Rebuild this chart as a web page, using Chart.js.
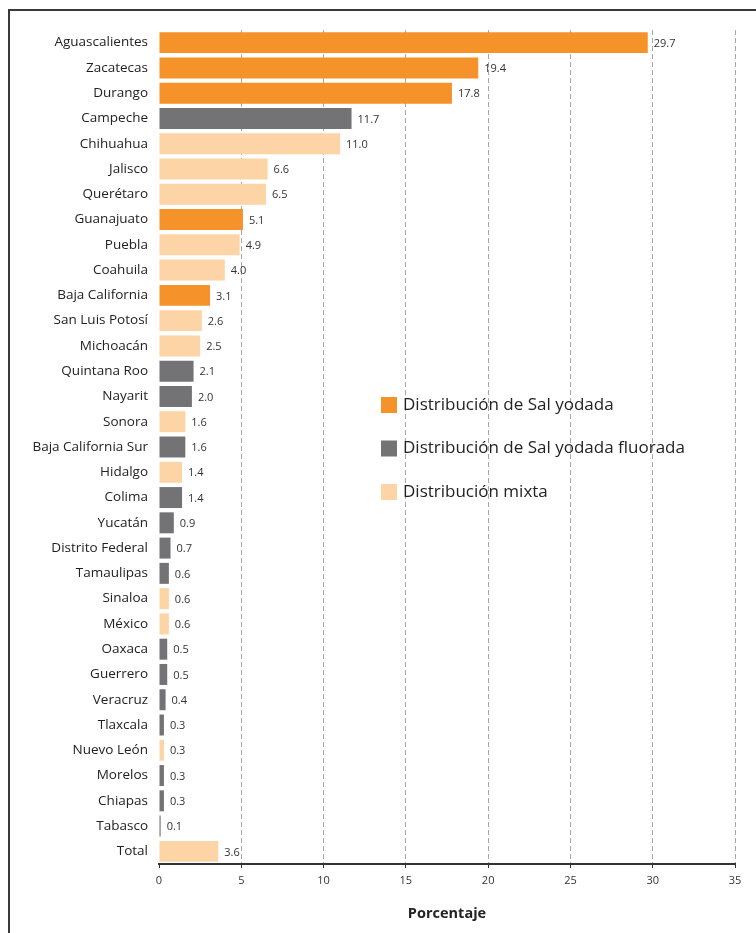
<!DOCTYPE html>
<html>
<head>
<meta charset="utf-8">
<script src="https://cdn.jsdelivr.net/npm/chart.js"></script>
<style>
  html, body { margin: 0; padding: 0; background: #fff; overflow: hidden; }
  #wrap { position: relative; width: 756px; height: 933px; }
  #frame { position: absolute; left: 8px; top: 9px; width: 800px; height: 1000px; border: 2px solid #3a3a3a; box-sizing: border-box; }
  canvas { position: absolute; left: 0; top: 0; }
</style>
</head>
<body>
<div id="wrap">
  <div id="frame"></div>
  <canvas id="saltChart" width="756" height="933"></canvas>
</div>
<script>
// Datos: porcentaje por entidad y tipo de distribucion
const estados = ['Aguascalientes', 'Zacatecas', 'Durango', 'Campeche', 'Chihuahua', 'Jalisco',
    'Querétaro', 'Guanajuato', 'Puebla', 'Coahuila', 'Baja California', 'San Luis Potosí',
    'Michoacán', 'Quintana Roo', 'Nayarit', 'Sonora', 'Baja California Sur', 'Hidalgo',
    'Colima', 'Yucatán', 'Distrito Federal', 'Tamaulipas', 'Sinaloa', 'México', 'Oaxaca',
    'Guerrero', 'Veracruz', 'Tlaxcala', 'Nuevo León', 'Morelos', 'Chiapas', 'Tabasco', 'Total'];

const porcentajes = [29.7, 19.4, 17.8, 11.7, 11.0, 6.6, 6.5, 5.1, 4.9, 4.0, 3.1, 2.6,
    2.5, 2.1, 2.0, 1.6, 1.6, 1.4, 1.4, 0.9, 0.7, 0.6, 0.6, 0.6, 0.5,
    0.5, 0.4, 0.3, 0.3, 0.3, 0.3, 0.1, 3.6];

// 0 = sal yodada, 1 = sal yodada fluorada, 2 = mixta
const tipos = [0, 0, 0, 1, 2, 2, 2, 0, 2, 2, 0, 2,
    2, 1, 1, 2, 1, 2, 1, 1, 1, 1, 2, 2, 1,
    1, 1, 1, 2, 1, 1, 1, 2];

const tiposNombres = ['Distribución de Sal yodada', 'Distribución de Sal yodada fluorada', 'Distribución mixta'];
const tiposColores = ['#f5922a', '#737376', '#fcd4a6'];

const xTicks = [0, 5, 10, 15, 20, 25, 30, 35];

const datasets = tiposNombres.map((nombre, t) => ({
    label: nombre,
    data: porcentajes.map((v, i) => tipos[i] === t ? v : null),
    backgroundColor: tiposColores[t],
    borderWidth: 0,
    barPercentage: 0.83,
    categoryPercentage: 1
}));

// etiquetas de valor al final de cada barra
const valueLabels = {
    id: 'valueLabels',
    afterDatasetsDraw(chart) {
        const ctx = chart.ctx;
        ctx.save();
        ctx.font = '11px "Open Sans"';
        ctx.fillStyle = '#333';
        ctx.textBaseline = 'middle';
        chart.data.datasets.forEach((ds, di) => {
            chart.getDatasetMeta(di).data.forEach((bar, i) => {
                const v = ds.data[i];
                if (v === null) return;
                ctx.fillText(v.toFixed(1), bar.x + 6, bar.y + 1);
            });
        });
        ctx.restore();
    }
};

// leyenda dentro del area del grafico
const innerLegend = {
    id: 'innerLegend',
    afterDraw(chart) {
        const ctx = chart.ctx;
        const x = 381, y0 = 405, gap = 43.5;
        ctx.save();
        ctx.font = '17px "Open Sans"';
        ctx.textBaseline = 'middle';
        chart.data.datasets.forEach((ds, i) => {
            const y = y0 + i * gap;
            ctx.fillStyle = ds.backgroundColor;
            ctx.fillRect(x, y - 8, 16, 16);
            ctx.fillStyle = '#222';
            ctx.fillText(ds.label, x + 22, y);
        });
        ctx.restore();
    }
};

new Chart(document.getElementById('saltChart'), {
    type: 'bar',
    data: { labels: estados, datasets: datasets },
    options: {
        indexAxis: 'y',
        responsive: false,
        animation: false,
        layout: { padding: { top: 30, right: 21, left: 0, bottom: 10 } },
        plugins: {
            legend: { display: false },
            tooltip: { enabled: false }
        },
        scales: {
            y: {
                stacked: true,
                grid: { display: false, drawTicks: false },
                border: { display: false },
                ticks: {
                    color: '#222',
                    font: { family: 'Open Sans', size: 13.5 },
                    padding: 11,
                    autoSkip: false
                },
                afterFit(scale) { scale.width = 159; }
            },
            x: {
                min: 0,
                max: 35,
                afterBuildTicks(scale) {
                    scale.ticks = xTicks.map(v => ({ value: v }));
                },
                grid: {
                    color: ctx => ctx.tick && ctx.tick.value === 0 ? 'rgba(0,0,0,0)' : '#a8a8a8',
                    lineWidth: 1,
                    drawTicks: true,
                    tickLength: 4,
                    tickColor: '#333',
                    tickBorderDash: [0, 0]
                },
                border: { display: true, color: '#333', width: 2, dash: [5, 3] },
                ticks: {
                    color: '#333',
                    font: { family: 'Open Sans', size: 11 },
                    padding: 6
                },
                title: {
                    display: true,
                    text: 'Porcentaje',
                    color: '#222',
                    font: { family: 'Open Sans', size: 14.5, weight: 'bold' },
                    padding: { top: 12, bottom: 0 }
                },
                afterFit(scale) { scale.height = 59; }
            }
        }
    },
    plugins: [valueLabels, innerLegend]
});
</script>
</body>
</html>
